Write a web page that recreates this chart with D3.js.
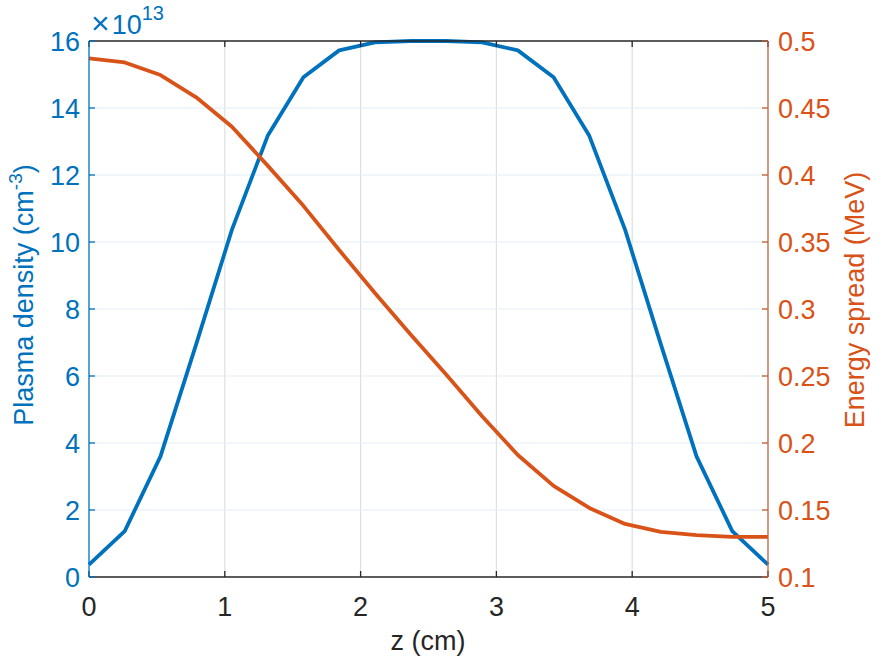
<!DOCTYPE html>
<html>
<head>
<meta charset="utf-8">
<script src="https://cdn.jsdelivr.net/npm/d3@7"></script>
<style>
  html, body { margin: 0; padding: 0; background: #fff; }
  svg { display: block; font-family: "Liberation Sans", Arial, Helvetica, sans-serif; }
</style>
</head>
<body>
<svg id="chart" width="884" height="665"></svg>
<script>
// ---- data ----
const zValues = [0, 0.2632, 0.5263, 0.7895, 1.0526, 1.3158, 1.5789, 1.8421, 2.1053, 2.3684,
                 2.6316, 2.8947, 3.1579, 3.4211, 3.6842, 3.9474, 4.2105, 4.4737, 4.7368, 5];
const densityValues = [0.37, 1.37, 3.6, 6.95, 10.37, 13.17, 14.92, 15.72, 15.96, 16.0,
                       16.0, 15.96, 15.72, 14.92, 13.17, 10.37, 6.95, 3.6, 1.37, 0.37];
const spreadValues = [0.487, 0.484, 0.4746, 0.458, 0.436, 0.407, 0.377, 0.344, 0.312, 0.281,
                      0.251, 0.220, 0.191, 0.168, 0.1515, 0.1396, 0.1336, 0.1313, 0.1299, 0.1299];
const xTicks = [0, 1, 2, 3, 4, 5];
const yLeftTicks = [0, 2, 4, 6, 8, 10, 12, 14, 16];
const yRightTicks = [0.1, 0.15, 0.2, 0.25, 0.3, 0.35, 0.4, 0.45, 0.5];

// ---- layout ----
const svg = d3.select("#chart");
const L = 89, R = 768, T = 41, B = 577;
const blue = "#0072BD", orange = "#D95319", dark = "#262626";
const fs = 27;

const x = d3.scaleLinear().domain([0, 5]).range([L, R]);
const yL = d3.scaleLinear().domain([0, 16]).range([B, T]);
const yR = d3.scaleLinear().domain([0.1, 0.5]).range([B, T]);

// grid
const grid = svg.append("g");
grid.selectAll("line.vx").data(xTicks.filter(d => d > 0 && d < 5)).enter().append("line")
  .attr("x1", d => x(d)).attr("x2", d => x(d)).attr("y1", T).attr("y2", B)
  .attr("stroke", "#dedfe1").attr("stroke-width", 1.2);
grid.selectAll("line.hy").data(yLeftTicks.filter(d => d > 0 && d < 16)).enter().append("line")
  .attr("x1", L).attr("x2", R).attr("y1", d => yL(d)).attr("y2", d => yL(d))
  .attr("stroke", "#e2edf6").attr("stroke-width", 1.2);

// lines
const lineBlue = d3.line().x((d, i) => x(zValues[i])).y(d => yL(d));
const lineOrange = d3.line().x((d, i) => x(zValues[i])).y(d => yR(d));
svg.append("path").datum(densityValues).attr("d", lineBlue)
  .attr("fill", "none").attr("stroke", blue).attr("stroke-width", 3.8).attr("stroke-linejoin", "round");
svg.append("path").datum(spreadValues).attr("d", lineOrange)
  .attr("fill", "none").attr("stroke", orange).attr("stroke-width", 3.8).attr("stroke-linejoin", "round");

// axes frame
const tk = 6;
// bottom
const xb = svg.append("g");
xb.append("line").attr("x1", L).attr("x2", R).attr("y1", B).attr("y2", B).attr("stroke", dark).attr("stroke-width", 1.3);
xb.selectAll("line.t").data(xTicks).enter().append("line")
  .attr("x1", d => x(d)).attr("x2", d => x(d)).attr("y1", B).attr("y2", B - tk)
  .attr("stroke", dark).attr("stroke-width", 1.3);
xb.selectAll("text").data(xTicks).enter().append("text")
  .attr("x", d => x(d)).attr("y", 616).attr("text-anchor", "middle")
  .attr("font-size", fs).attr("fill", dark).text(d => d);
// top
const xt = svg.append("g");
xt.append("line").attr("x1", L).attr("x2", R).attr("y1", T).attr("y2", T).attr("stroke", dark).attr("stroke-width", 1.3);
xt.selectAll("line.t").data(xTicks).enter().append("line")
  .attr("x1", d => x(d)).attr("x2", d => x(d)).attr("y1", T).attr("y2", T + tk)
  .attr("stroke", dark).attr("stroke-width", 1.3);

// left
const yl = svg.append("g");
yl.append("line").attr("x1", L).attr("x2", L).attr("y1", T).attr("y2", B).attr("stroke", blue).attr("stroke-width", 1.3);
yl.selectAll("line.t").data(yLeftTicks).enter().append("line")
  .attr("x1", L).attr("x2", L + tk).attr("y1", d => yL(d)).attr("y2", d => yL(d))
  .attr("stroke", blue).attr("stroke-width", 1.3);
yl.selectAll("text").data(yLeftTicks).enter().append("text")
  .attr("x", 80).attr("y", d => yL(d) + 9.5).attr("text-anchor", "end")
  .attr("font-size", fs).attr("fill", blue).text(d => d);

// right
const yr = svg.append("g");
yr.append("line").attr("x1", R).attr("x2", R).attr("y1", T).attr("y2", B).attr("stroke", "#C0603A").attr("stroke-width", 1.3);
yr.selectAll("line.t").data(yRightTicks).enter().append("line")
  .attr("x1", R).attr("x2", R - tk).attr("y1", d => yR(d)).attr("y2", d => yR(d))
  .attr("stroke", "#C0603A").attr("stroke-width", 1.3);
yr.selectAll("text").data(yRightTicks).enter().append("text")
  .attr("x", 778).attr("y", d => yR(d) + 9.5).attr("text-anchor", "start")
  .attr("font-size", fs).attr("fill", orange).text(d => d);

// exponent label
const ex = svg.append("text").attr("x", 91).attr("y", 34).attr("font-size", fs).attr("fill", blue);
ex.append("tspan").attr("font-size", 32).attr("font-weight", 300).text("\u00D7");
ex.append("tspan").attr("dx", 2).text("10");
ex.append("tspan").attr("dy", -14).attr("font-size", 20).text("13");

// axis labels
svg.append("text").attr("x", 428).attr("y", 650).attr("text-anchor", "middle")
  .attr("font-size", fs).attr("fill", dark).text("z (cm)");

const ll = svg.append("text").attr("transform", "translate(33,295) rotate(-90)")
  .attr("text-anchor", "middle").attr("font-size", fs).attr("fill", blue);
ll.append("tspan").text("Plasma density (cm");
ll.append("tspan").attr("dy", -11).attr("font-size", 19).text("-3");
ll.append("tspan").attr("dy", 11).text(")");

svg.append("text").attr("transform", "translate(864,300) rotate(-90)")
  .attr("text-anchor", "middle").attr("font-size", fs).attr("fill", orange)
  .text("Energy spread (MeV)");
</script>
</body>
</html>
